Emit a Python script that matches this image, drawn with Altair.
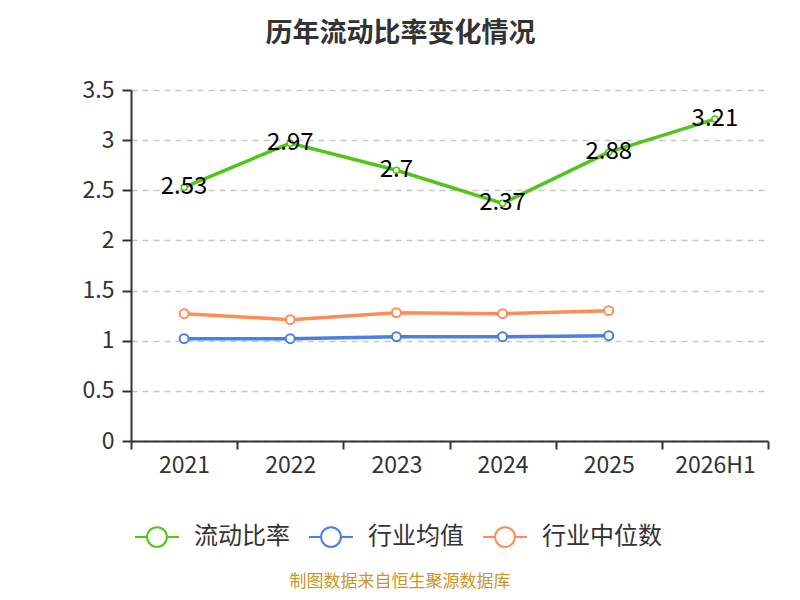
import altair as alt
import pandas as pd

years = ["2021", "2022", "2023", "2024", "2025", "2026H1"]
ratio = [2.53, 2.97, 2.70, 2.37, 2.88, 3.21]
ind_avg = [1.02, 1.02, 1.04, 1.04, 1.05, None]
ind_med = [1.27, 1.21, 1.28, 1.27, 1.30, None]
series_names = ["流动比率", "行业均值", "行业中位数"]
colors = ["#52c41a", "#4a7fe3", "#ff8c55"]
source_note = ["制图数据来自恒生聚源数据库"]

rows = []
for name, vals in zip(series_names, [ratio, ind_avg, ind_med]):
    for y, v in zip(years, vals):
        if v is not None:
            rows.append({"year": y, "series": name, "value": v, "label": f"{v:g}"})
df = pd.DataFrame(rows)

FONT = "Noto Sans CJK SC"
legend_path = "M-1,0L-0.45,0M0.45,0L1,0M-0.45,0A0.45,0.45,0,1,1,0.45,0A0.45,0.45,0,1,1,-0.45,0Z"

x = alt.X("year:N", sort=years, title=None,
          scale=alt.Scale(type="band", domain=years, paddingInner=0, paddingOuter=0),
          axis=alt.Axis(tickBand="extent", labelFontSize=23, labelColor="#333",
                        labelFont=FONT, labelPadding=5, tickSize=8, tickColor="#333",
                        domainColor="#333", domainWidth=2, tickWidth=2, labelAngle=0))
y = alt.Y("value:Q", title=None,
          scale=alt.Scale(domain=[0, 3.5], nice=False),
          axis=alt.Axis(values=[0, 0.5, 1, 1.5, 2, 2.5, 3, 3.5], labelExpr="datum.value + ''",
                        labelFontSize=23, labelColor="#333", labelFont=FONT, labelPadding=8,
                        tickSize=9, tickColor="#333", tickWidth=2, domainColor="#333", domainWidth=2,
                        grid=True, gridDash=[6, 5], gridColor="#c8c8c8", gridWidth=1.5))
color = alt.Color("series:N", sort=series_names,
                  scale=alt.Scale(domain=series_names, range=colors),
                  legend=alt.Legend(title=None, orient="none", direction="horizontal",
                                    legendX=3, legendY=424, symbolType=legend_path,
                                    symbolSize=1936, symbolStrokeWidth=2, symbolFillColor="#fff",
                                    labelFontSize=24, labelFont=FONT, labelColor="#333",
                                    labelOffset=14, columnPadding=15))

base = alt.Chart(df).encode(x=x, y=y, color=color)
lines = base.mark_line(strokeWidth=3.5)
pts_main = base.transform_filter(alt.datum.series == "流动比率").mark_point(
    filled=False, fill="white", fillOpacity=1, size=36, strokeWidth=1.5, opacity=1)
pts_ind = base.transform_filter(alt.datum.series != "流动比率").mark_point(
    filled=False, fill="white", fillOpacity=1, size=80, strokeWidth=2, opacity=1)
labels = alt.Chart(df).transform_filter(alt.datum.series == "流动比率").mark_text(
    fontSize=24, font=FONT, color="#000", baseline="middle", align="center"
).encode(x=alt.X("year:N", sort=years), y="value:Q", text="label:N")

src = alt.Chart(pd.DataFrame({"t": source_note})).mark_text(
    fontSize=17, font=FONT, color="#c9962a", align="center", baseline="middle"
).encode(text="t:N", x=alt.value(269), y=alt.value(492))

chart = alt.layer(lines, pts_main, pts_ind, labels, src).properties(
    width=637, height=351,
    title=alt.TitleParams("历年流动比率变化情况", fontSize=27, font=FONT, fontWeight="bold",
                          color="#333", anchor="middle", offset=31, dx=-49),
    autosize=alt.AutoSizeParams(type="none"),
    padding={"left": 123, "top": 82, "right": 24, "bottom": 151},
).configure_view(stroke=None)

chart.save("out.html", embed_options={"renderer": "svg", "actions": False})
